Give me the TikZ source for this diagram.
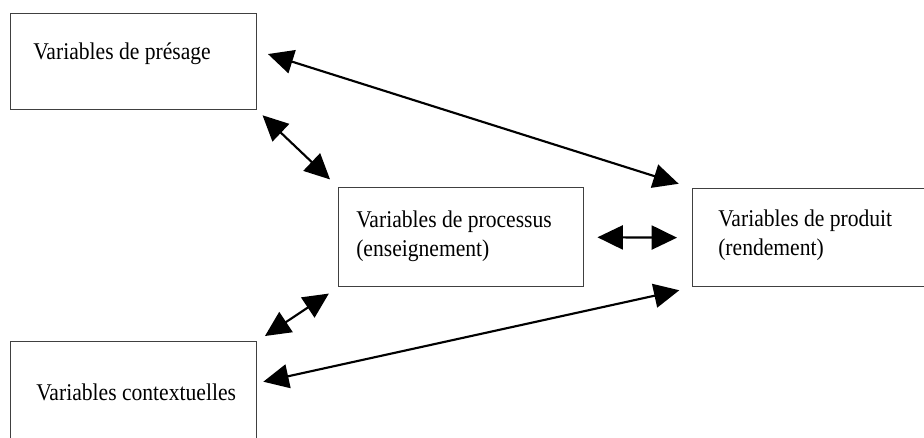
\documentclass[tikz,border=0pt]{standalone}
\usepackage{fontspec}
\setmainfont{Liberation Serif}[FakeStretch=0.9]
\usepackage{tikz}
\usetikzlibrary{arrows.meta,calc}
\tikzstyle{varbox} = [draw=black!75, line width=1.1pt, rectangle, anchor=north west, inner sep=0pt]
\tikzstyle{boxtext} = [anchor=base west, align=left, inner sep=0pt, font=\fontsize{18}{21.75}\selectfont]
\tikzstyle{link} = [{Triangle[length=19pt,width=18pt]}-{Triangle[length=19pt,width=18pt]}, line width=1.6pt]

\begin{document}
\begin{tikzpicture}[x=0.75pt, y=-0.75pt]
    \useasboundingbox (0,0) rectangle (924,437);
    \clip (0,0) rectangle (924,437);
    % boxes
    \node[varbox, minimum width=184.5pt, minimum height=72pt] (presage) at (10,13) {};
    \node[varbox, minimum width=183.75pt, minimum height=74.25pt] (processus) at (338,187) {};
    \node[varbox, minimum width=193.5pt, minimum height=73.5pt] (produit) at (692,188) {};
    \node[varbox, minimum width=184.5pt, minimum height=89.25pt] (contexte) at (10,341) {};
    % texts (base = last line)
    \node[boxtext] (tpresage) at (33,59) {Variables de présage};
    \node[boxtext] (tprocessus) at (356,256) {Variables de processus\\(enseignement)};
    \node[boxtext] (tproduit) at (718,255) {Variables de produit\\(rendement)};
    \node[boxtext] (tcontexte) at (36,400) {Variables contextuelles};
    % links
    \draw[link, shorten <=8.25pt, shorten >=10.5pt] ($(presage.east)+(0,-11)$) -- (produit.north west);
    \draw[link, shorten <=5.25pt, shorten >=8.25pt] (presage.south east) -- (processus.north west);
    \draw[link, shorten <=9.75pt, shorten >=11.25pt] (processus.east) -- (produit.west);
    \draw[link, shorten <=6.75pt, shorten >=8.25pt] (contexte.north east) -- (processus.south west);
    \draw[link, shorten <=4.5pt, shorten >=9.75pt] ($(contexte.north east)+(0,42)$) -- (produit.south west);
\end{tikzpicture}
\end{document}
